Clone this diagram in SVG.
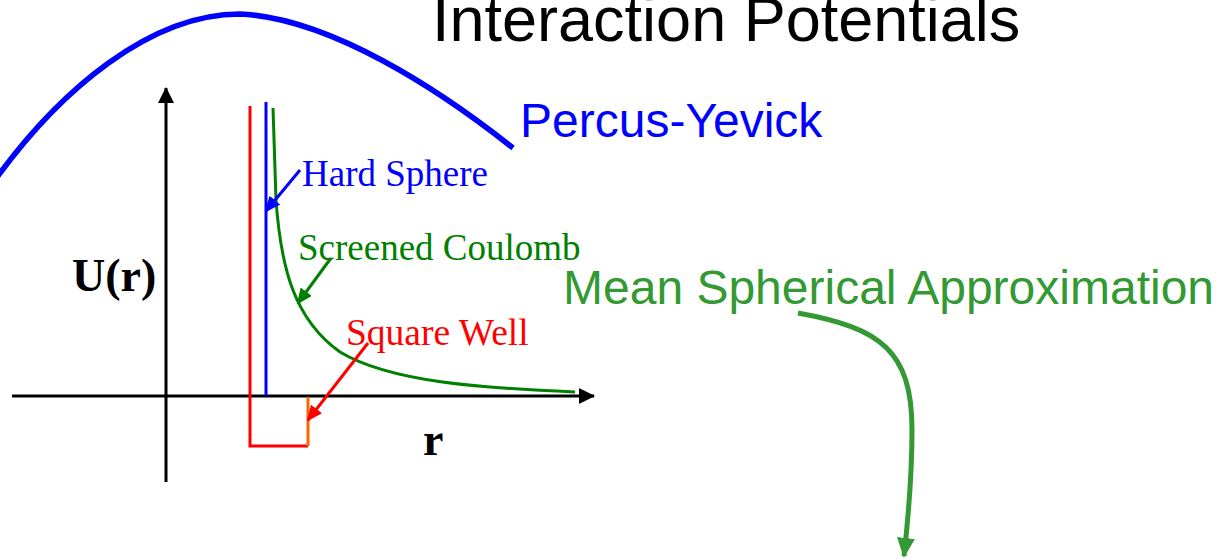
<svg xmlns="http://www.w3.org/2000/svg" width="1232" height="560" viewBox="0 0 1232 560">
<style>
.sans{font-family:"Liberation Sans",Arial,sans-serif}
.serif{font-family:"Liberation Serif","Times New Roman",serif}
.ln{fill:none;stroke-width:3}
</style>
<defs>
<marker id="ahK" viewBox="0 0 16 16" refX="15" refY="8" markerWidth="16" markerHeight="16" markerUnits="userSpaceOnUse" orient="auto"><path d="M0,0 L16,8 L0,16 z" fill="#000"/></marker>
<marker id="ahB" viewBox="0 0 16 14" refX="14" refY="7" markerWidth="16" markerHeight="14" markerUnits="userSpaceOnUse" orient="auto"><path d="M0,0 L16,7 L0,14 z" fill="#0000FF"/></marker>
<marker id="ahG" viewBox="0 0 16 14" refX="14" refY="7" markerWidth="16" markerHeight="14" markerUnits="userSpaceOnUse" orient="auto"><path d="M0,0 L16,7 L0,14 z" fill="#008000"/></marker>
<marker id="ahR" viewBox="0 0 16 14" refX="14" refY="7" markerWidth="16" markerHeight="14" markerUnits="userSpaceOnUse" orient="auto"><path d="M0,0 L16,7 L0,14 z" fill="#FF0000"/></marker>
<marker id="ahM" viewBox="0 0 20 18" refX="18" refY="9" markerWidth="20" markerHeight="18" markerUnits="userSpaceOnUse" orient="auto"><path d="M0,0 L20,9 L0,18 z" fill="#339933"/></marker>
</defs>
<rect width="1232" height="560" fill="#fff"/>
<g id="title"><text class="sans" x="432" y="41" font-size="63" fill="#000">Interaction Potentials</text></g>
<g id="percus-yevick">
<path d="M-5,180 C60,90 150,14 240,14 C330,18 440,90 513,148" fill="none" stroke="#0000FF" stroke-width="5.5"/>
<text class="sans" x="520" y="137" font-size="48" fill="#0000FF">Percus-Yevick</text>
</g>
<g id="axes">
<line class="ln" x1="166" y1="482" x2="166" y2="88" stroke="#000" marker-end="url(#ahK)"/>
<line class="ln" x1="12" y1="396" x2="594" y2="396" stroke="#000" marker-end="url(#ahK)"/>
<text class="serif" x="72" y="291" font-size="46" font-weight="bold" fill="#000">U(r)</text>
<text class="serif" x="423" y="455" font-size="46" font-weight="bold" fill="#000">r</text>
</g>
<g id="square-well">
<polyline class="ln" points="250,106 250,446 308,446" stroke="#FF0000"/>
<line class="ln" x1="308" y1="446" x2="308" y2="397" stroke="#FF6600"/>
<text class="serif" x="346" y="345" font-size="37.5" fill="#FF0000">Square Well</text>
</g>
<g id="hard-sphere">
<line class="ln" x1="266" y1="102" x2="266" y2="396" stroke="#0000FF"/>
<text class="serif" x="302" y="186" font-size="37" fill="#0000FF">Hard Sphere</text>
</g>
<g id="screened-coulomb">
<path class="ln" d="M273,108 L276,200 C281,270 295,320 340,352 C390,382 480,388 575,392" stroke="#008000"/>
<text class="serif" x="298" y="260" font-size="37" fill="#008000">Screened Coulomb</text>
</g>
<g id="msa">
<text class="sans" x="563" y="304" font-size="48" fill="#339933">Mean Spherical Approximation</text>
</g>
<g id="connectors">
<line class="ln" x1="300" y1="170" x2="266" y2="211" stroke="#0000FF" marker-end="url(#ahB)"/>
<line class="ln" x1="331" y1="258" x2="298" y2="303" stroke="#008000" marker-end="url(#ahG)"/>
<line class="ln" x1="368" y1="343" x2="308" y2="420" stroke="#FF0000" marker-end="url(#ahR)"/>
<path d="M798,313 C880,328 912,350 912,430 C912,480 908,520 904,556" fill="none" stroke="#339933" stroke-width="5" marker-end="url(#ahM)"/>
</g>
</svg>
